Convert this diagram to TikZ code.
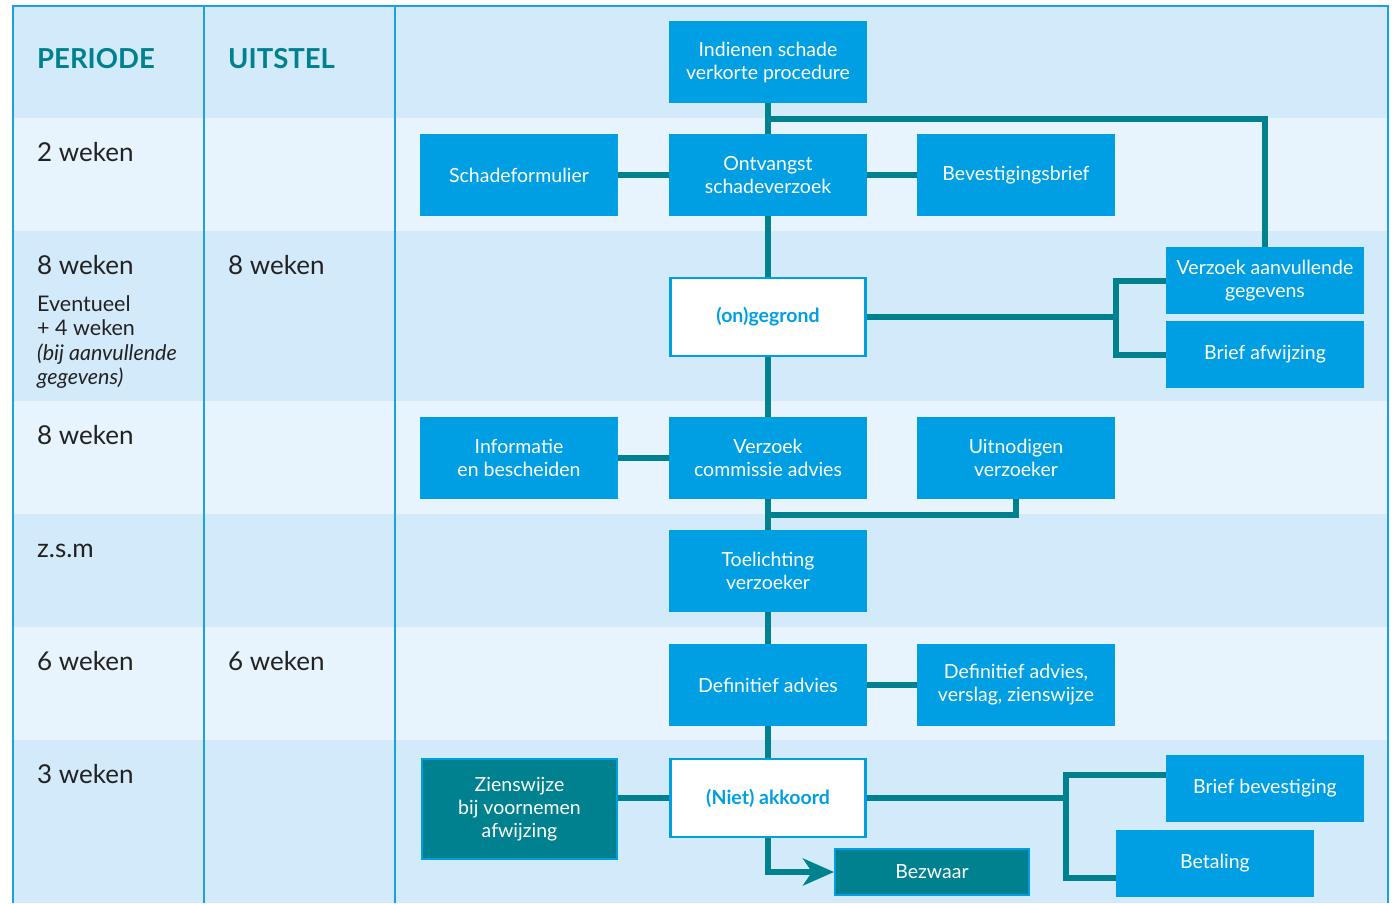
\documentclass[tikz,border=0pt]{standalone}
\usepackage{fontspec}
\setmainfont{Lato}
\usepackage{xcolor}
\usetikzlibrary{calc}
\usetikzlibrary{arrows.meta}
\usetikzlibrary{positioning}
\definecolor{clbox}{HTML}{009FE3}
\definecolor{clline}{HTML}{00818F}
\definecolor{clband}{HTML}{D3EAFA}
\definecolor{clbandlight}{HTML}{E7F4FD}
\definecolor{clgrid}{HTML}{1BA1E2}
\definecolor{cltext}{HTML}{222222}
\tikzstyle{block} = [rectangle, fill=clbox, text=white, inner sep=0pt, minimum width=198pt, minimum height=82pt, align=center, font=\fontsize{19.5}{23}\selectfont]
\tikzstyle{flatblock} = [block, minimum height=67pt]
\tikzstyle{decision} = [block, fill=white, draw=clbox, line width=2.5pt, text=clbox, minimum width=195pt, minimum height=78pt, font=\bfseries\fontsize{19.5}{23}\selectfont]
\tikzstyle{darkblock} = [block, fill=clline, draw=clbox, line width=2pt]
\tikzstyle{line} = [draw=clline, line width=6pt]
\tikzstyle{period} = [anchor=base west, inner sep=0pt, text=cltext, font=\fontsize{26}{30}\selectfont]
\tikzstyle{header} = [anchor=base west, inner sep=0pt, text=clline, font=\bfseries\fontsize{27.5}{30}\selectfont]
\begin{document}
\begin{tikzpicture}[x=1pt, y=-1pt]
    \useasboundingbox (0,0) rectangle (1395,903);

    % bands of the table
    \foreach \top/\bot/\col in {6/118/clband, 118/231/clbandlight, 231/401/clband, 401/514/clbandlight, 514/627/clband, 627/740/clbandlight, 740/903/clband}
        \fill [\col] (13,\top) rectangle (1388,\bot);
    \draw [clgrid, line width=1.5pt] (13,903) -- (13,6) -- (1388,6) -- (1388,903);
    \draw [clgrid, line width=1.5pt] (204,6) -- (204,903);
    \draw [clgrid, line width=1.5pt] (395,6) -- (395,903);

    \node [header] (hper) at (37,68) {PERIODE};
    \node [header] (huit) at (228,68) {UITSTEL};

    \node [period] (p1) at (37,161) {2 weken};
    \node [period] (p2) at (37,274) {8 weken};
    \node [period, font=\fontsize{21.5}{24.5}\selectfont, align=left, anchor=north west] (p2b) at (37,295) {Eventueel\\+ 4 weken\\\itshape (bij aanvullende\\\itshape gegevens)};
    \node [period] (u2) at (228,274) {8 weken};
    \node [period] (p3) at (37,444) {8 weken};
    \node [period] (p4) at (37,557) {z.s.m};
    \node [period] (p5) at (37,670) {6 weken};
    \node [period] (u5) at (228,670) {6 weken};
    \node [period] (p6) at (37,783) {3 weken};

    % main flow
    \node [block] (ind) at (768,62) {Indienen schade\\verkorte procedure};
    \node [block] (form) at (519,175) {Schadeformulier};
    \node [block] (ontv) at (768,175) {Ontvangst\\schadeverzoek};
    \node [block] (bev) at (1016,175) {Bevestigingsbrief};
    \node [decision] (grond) at (768,317) {(on)gegrond};
    \node [flatblock] (aanv) at (1265,280.5) {Verzoek aanvullende\\gegevens};
    \node [flatblock] (afw) at (1265,354.5) {Brief afwijzing};
    \node [block] (info) at (519,458) {Informatie\\en bescheiden};
    \node [block] (comm) at (768,458) {Verzoek\\commissie advies};
    \node [block] (uitn) at (1016,458) {Uitnodigen\\verzoeker};
    \node [block] (toel) at (768,571) {Toelichting\\verzoeker};
    \node [block] (defadv) at (768,685) {Definitief advies};
    \node [block] (defver) at (1016,685) {Definitief advies,\\verslag, zienswijze};
    \node [darkblock, minimum width=195pt, minimum height=100pt] (zien) at (519.5,809) {Zienswijze\\bij voornemen\\afwijzing};
    \node [decision] (akk) at (768,798) {(Niet) akkoord};
    \node [darkblock, minimum width=194pt, minimum height=46pt] (bezw) at (932,872) {Bezwaar};
    \node [flatblock] (briefbev) at (1265,788.5) {Brief bevestiging};
    \node [flatblock] (betal) at (1215,863.5) {Betaling};

    \coordinate (indsplit) at (768,119);
    \coordinate (gfork) at (1116,317);
    \coordinate (uitjoin) at (768,515);
    \coordinate (afork) at (1066,798);

    \path [line] (ind) -- (ontv);
    \path [line] (ontv) -- (grond);
    \path [line] (grond) -- (comm);
    \path [line] (comm) -- (toel);
    \path [line] (toel) -- (defadv);
    \path [line] (defadv) -- (akk);

    \path [line] (indsplit) -| (aanv);
    \path [line] (form) -- (ontv);
    \path [line] (ontv) -- (bev);

    \path [line] (grond) -- (gfork);
    \path [line] (aanv.west) -| (gfork) |- (afw.west);

    \path [line] (info) -- (comm);
    \path [line] (uitn) |- (uitjoin);

    \path [line] (defadv) -- (defver);

    \path [line] (zien.east |- akk.west) -- (akk.west);
    \path [line] (akk) -- (afork);
    \path [line] ([yshift=13.5pt]briefbev.west) -| (afork) |- ([yshift=-14.5pt]betal.west);
    \path [line, -{Stealth[length=31pt, width=27pt, inset=9pt]}] (akk.south) |- (bezw.west);

\end{tikzpicture}
\end{document}
